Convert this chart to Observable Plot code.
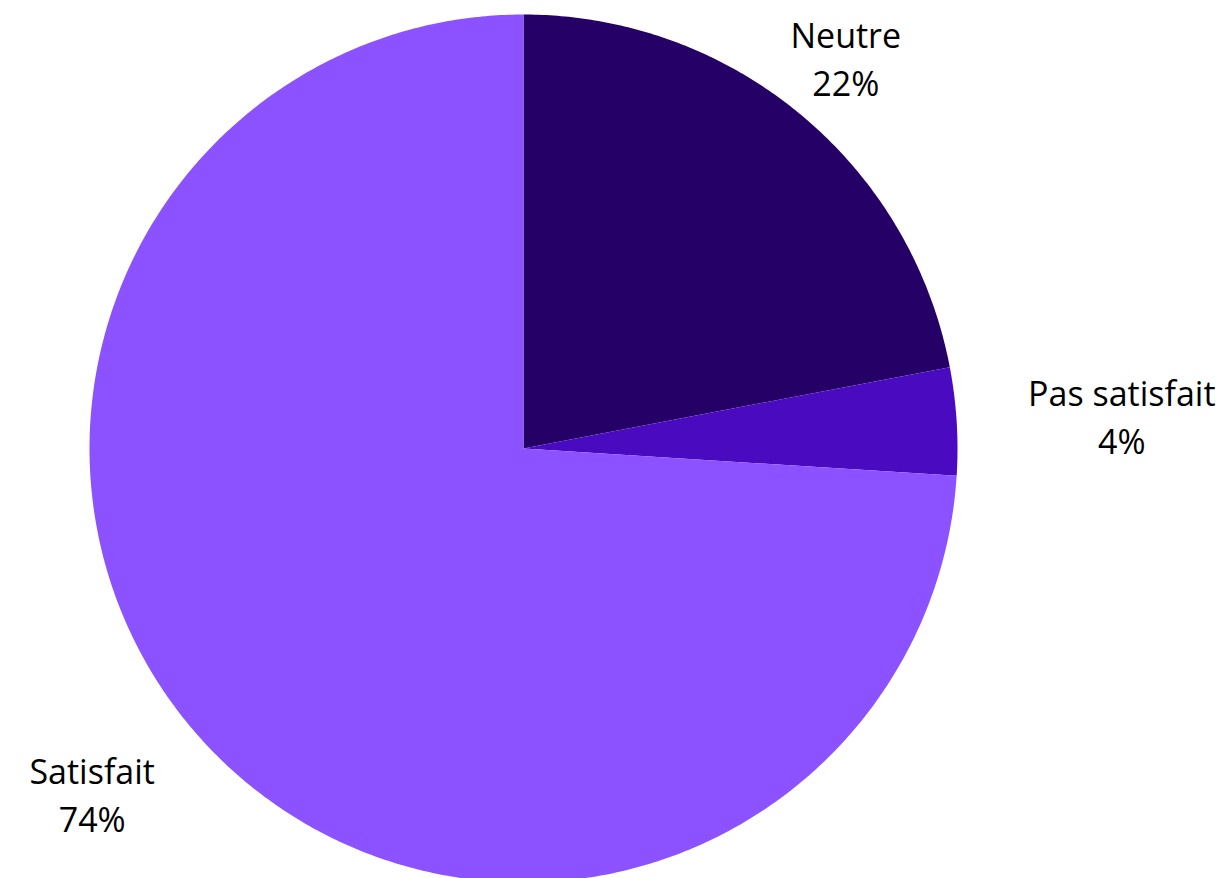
<!DOCTYPE html>
<html>
<head>
<meta charset="utf-8">
<script src="https://cdn.jsdelivr.net/npm/d3@7"></script>
<script src="https://cdn.jsdelivr.net/npm/@observablehq/plot@0.6"></script>
<style>
  html, body { margin: 0; padding: 0; background: #ffffff; overflow: hidden; }
  #chart svg { display: block; overflow: hidden; }
</style>
</head>
<body>
<div id="chart"></div>
<script>
// Data
const categories = ["Neutre", "Pas satisfait", "Satisfait"];
const percents = [22, 4, 74];
const colors = ["#250066", "#4a0bc0", "#8c52ff"];

// Layout
const W = 1226, H = 878;
const cx = 523, cy = 448, R = 434;
const labelR = R * 1.165;
const fontSize = 34;
const font = `${fontSize}px 'Open Sans'`;

const total = d3.sum(percents);
const pie = d3.pie().sort(null).value(d => d.value)(
  categories.map((c, i) => ({ category: c, value: percents[i] }))
);

// Build slice polygons from the pie angles
const polys = [];
pie.forEach(s => {
  const c = s.data.category;
  polys.push({ category: c, x: cx, y: cy });
  const steps = Math.max(2, Math.ceil((s.endAngle - s.startAngle) / (Math.PI / 360)));
  for (let k = 0; k <= steps; k++) {
    const a = s.startAngle + (s.endAngle - s.startAngle) * k / steps;
    polys.push({ category: c, x: cx + R * Math.sin(a), y: cy - R * Math.cos(a) });
  }
  polys.push({ category: c, x: cx, y: cy });
});

// Label positions
const ctx = document.createElement("canvas").getContext("2d");
ctx.font = font;
const labels = pie.map(s => {
  const a = (s.startAngle + s.endAngle) / 2;
  const pct = Math.round(s.data.value / total * 100);
  const lines = [s.data.category, `${pct}%`];
  const w = d3.max(lines, l => ctx.measureText(l).width);
  let x = cx + labelR * Math.sin(a);
  const y = cy - labelR * Math.cos(a);
  const sn = Math.sin(a);
  if (sn > 0.7) x += w / 2;
  else if (sn < -0.7) x -= w / 2;
  return { category: s.data.category, text: lines.join("\n"), x, y };
});

const chart = Plot.plot({
  width: W,
  height: H,
  margin: 0,
  x: { domain: [0, W], range: [0, W], axis: null },
  y: { domain: [0, H], range: [0, H], axis: null },
  color: { domain: categories, range: colors },
  style: { background: "#ffffff", fontFamily: "'Open Sans', sans-serif" },
  marks: [
    Plot.line(polys, { x: "x", y: "y", z: "category", fill: "category", stroke: "none", curve: "linear", clip: true }),
    Plot.text(labels, {
      x: "x", y: "y", text: "text", dy: -2,
      fontSize: fontSize, lineHeight: 1.41, lineAnchor: "middle", textAnchor: "middle",
      fill: "#000000", fontFamily: "'Open Sans', sans-serif"
    })
  ]
});
document.getElementById("chart").appendChild(chart);
</script>
</body>
</html>
